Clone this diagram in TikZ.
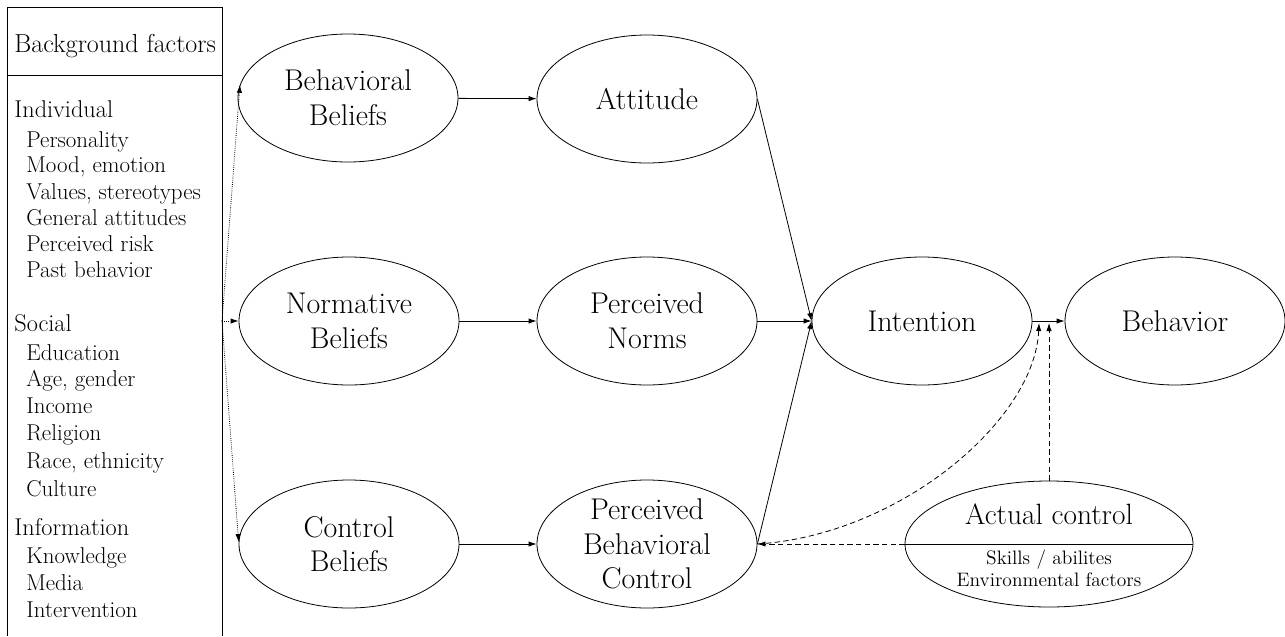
\documentclass[tikz,border=0pt]{standalone}
\usepackage{fontspec}
\usetikzlibrary{shapes.geometric,arrows.meta,positioning}

\begin{document}
\begin{tikzpicture}[x=0.75pt,y=-0.75pt,line width=0.6pt,
  oval/.style={draw,ellipse,minimum width=165pt,minimum height=96pt,inner xsep=0pt,inner ysep=-7pt,align=center,font=\fontsize{22.5}{26}\selectfont},
  link/.style={-{Latex[length=6pt,width=4pt]}},
  cue/.style={link,dash pattern=on 4pt off 2.5pt},
  feed/.style={link,densely dotted},
  head/.style={anchor=base west,inner sep=0pt,font=\fontsize{18.2}{19}\selectfont},
  item/.style={anchor=base west,inner sep=0pt,font=\fontsize{17.2}{18}\selectfont}]
\useasboundingbox (0,0) rectangle (1285,636);

% background factors
\draw (7,636) -- (7,7) -- (222,7) -- (222,636);
\draw (7,75) -- (222,75);
\node[anchor=base west,inner sep=0pt,font=\fontsize{19.5}{20}\selectfont] (bg) at (14,52) {Background factors};

\node[head] (indiv) at (14,117) {Individual};
\node[item] (ind1) at (26,147) {Personality};
\node[item] (ind2) at (26,172) {Mood, emotion};
\node[item] (ind3) at (26,199) {Values, stereotypes};
\node[item] (ind4) at (26,225) {General attitudes};
\node[item] (ind5) at (26,251) {Perceived risk};
\node[item] (ind6) at (26,277) {Past behavior};

\node[head] (soc) at (14,331) {Social};
\node[item] (soc1) at (26,360) {Education};
\node[item] (soc2) at (26,386) {Age, gender};
\node[item] (soc3) at (26,413) {Income};
\node[item] (soc4) at (26,440) {Religion};
\node[item] (soc5) at (26,468) {Race, ethnicity};
\node[item] (soc6) at (26,496) {Culture};

\node[head] (info) at (14,535) {Information};
\node[item] (inf1) at (26,563) {Knowledge};
\node[item] (inf2) at (26,590) {Media};
\node[item] (inf3) at (26,617) {Intervention};

% beliefs and constructs
\node[oval] (bb) at (348,98) {Behavioral\\Beliefs};
\node[oval] (att) at (647,99) {Attitude};
\node[oval] (nb) at (349,321) {Normative\\Beliefs};
\node[oval] (pn) at (647,321) {Perceived\\Norms};
\node[oval] (cb) at (349,544) {Control\\Beliefs};
\node[oval] (pbc) at (647,544) {Perceived\\Behavioral\\Control};
\node[oval] (int) at (922,321) {Intention};
\node[oval] (beh) at (1175,321) {Behavior};

% actual control
\node[draw,ellipse,minimum width=216pt,minimum height=94.5pt] (ac) at (1049,544) {};
\draw (ac.west) -- (ac.east);
\node[anchor=base,inner sep=0pt,font=\fontsize{22}{22}\selectfont] (actl) at (1049,524) {Actual control};
\node[anchor=base,inner sep=0pt,font=\fontsize{14.6}{15}\selectfont] (skill) at (1049,564) {Skills / abilites};
\node[anchor=base,inner sep=0pt,font=\fontsize{14.6}{15}\selectfont] (envf) at (1049,586) {Environmental factors};

% links
\coordinate (src) at (222,321);
\draw[feed] (src) -- (bb.173);
\draw[feed] (src) -- (nb.west);
\draw[feed] (src) -- (cb.179);

\draw[link] (bb) -- (att);
\draw[link] (nb) -- (pn);
\draw[link] (cb) -- (pbc);
\draw[link] (att.east) -- (int.west);
\draw[link] (pn.east) -- (int.west);
\draw[link] (pbc.east) -- (int.west);
\draw[link] (int.east) -- (beh.west);

\coordinate (j1) at (1039,323);
\coordinate (j2) at (1049,323);
\draw[cue] (ac.north) -- (j2);
\draw[cue] (ac.west) -- (pbc.east);
\draw[cue] (pbc.east) .. controls (900,535) and (1035,420) .. (j1);
\end{tikzpicture}
\end{document}
